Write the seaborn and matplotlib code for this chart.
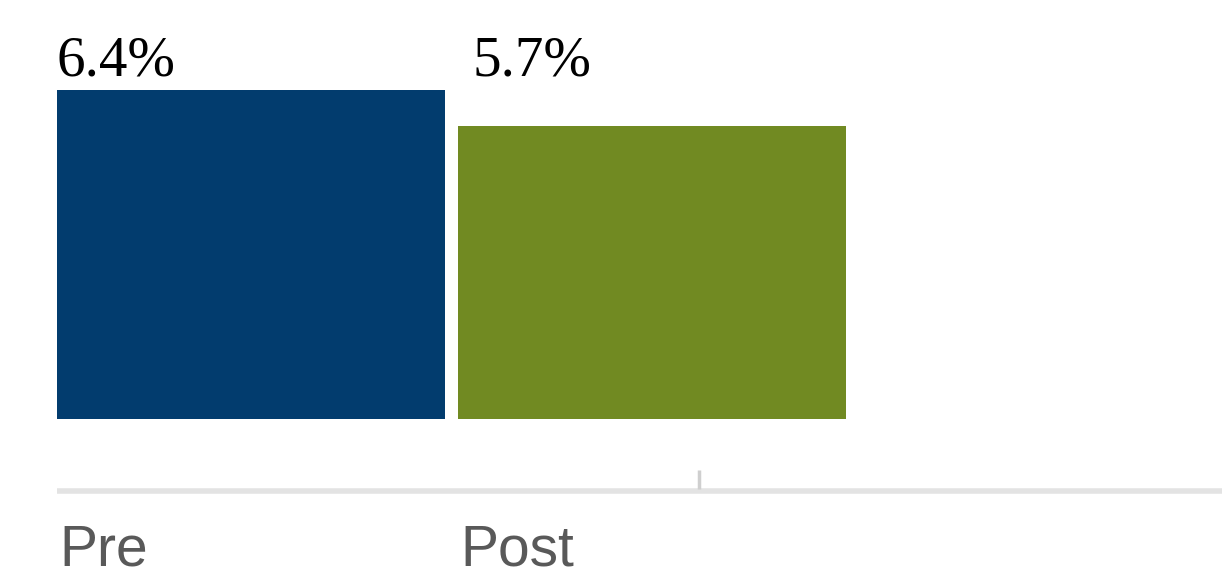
import matplotlib
matplotlib.use("Agg")
import matplotlib.pyplot as plt
import seaborn as sns
import pandas as pd

categories = ["Pre", "Post"]
values = [6.4, 5.7]
value_labels = ["6.4%", "5.7%"]
colors = ["#023C6E", "#718A22"]

sns.set_theme(style="white")
plt.rcParams['font.family'] = ['Liberation Sans', 'DejaVu Sans']

W, H = 1227, 578
fig = plt.figure(figsize=(W / 100, H / 100), dpi=100)

# pixel geometry
px_per_unit_y = 51.4
baseline_px = 419
ax_top_px, ax_bot_px = 0, 500
ax_left_px, ax_right_px = 57, 1222
cat_spacing_px = 401
pre_center_px = 251

ax = fig.add_axes([ax_left_px / W, (H - ax_bot_px) / H,
                   (ax_right_px - ax_left_px) / W, (ax_bot_px - ax_top_px) / H])

df = pd.DataFrame({"cat": categories, "val": values})
bar_w = 0.97
sns.barplot(data=df, x="cat", y="val", hue="cat", palette=colors, legend=False,
            width=bar_w, ax=ax, saturation=1, linewidth=0)

def py(p):
    return (baseline_px - p) / px_per_unit_y

def px(p):
    return (p - pre_center_px) / cat_spacing_px

ax.set_ylim(py(ax_bot_px), py(ax_top_px))
ax.set_xlim(px(ax_left_px), px(ax_right_px))
ax.axis("off")

# axis line
ax.axhline(py(491), color="#E3E3E3", lw=4.0, solid_capstyle="butt", zorder=0)
# small tick
ax.plot([px(699), px(699)], [py(470), py(489)], color="#CFCFCF", lw=2.5,
        solid_capstyle="butt", zorder=1)

label_offsets_px = [0, 15]
for i, (cat, lab) in enumerate(zip(categories, value_labels)):
    left = i - bar_w / 2
    ax.text(left + label_offsets_px[i] / cat_spacing_px, py(75), lab,
            ha="left", va="baseline", fontsize=41,
            family=["Liberation Serif", "DejaVu Serif"], color="black")
    ax.text(left + 3 / cat_spacing_px, py(565), cat, ha="left", va="baseline",
            fontsize=41, color="#595959", clip_on=False)

fig.savefig("out.png", dpi=100)
